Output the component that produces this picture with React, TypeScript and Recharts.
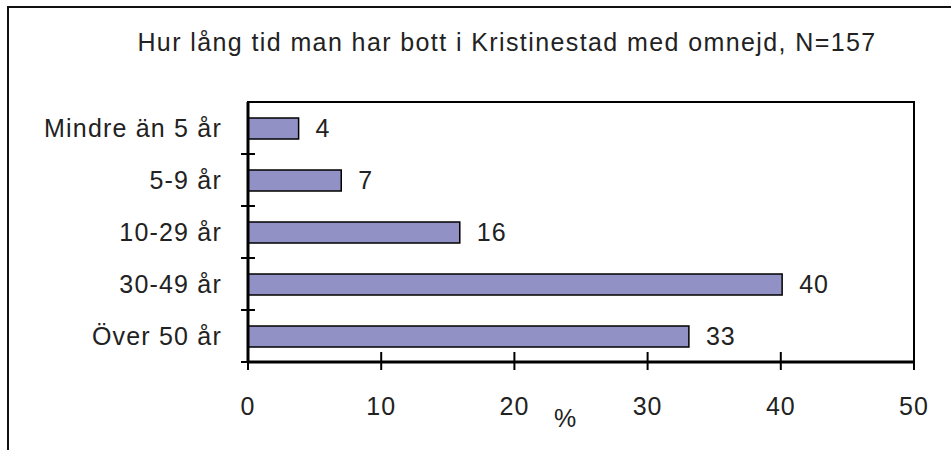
import * as React from 'react';
import { BarChart, Bar, XAxis, YAxis, LabelList, ReferenceArea } from 'recharts';

const categories = ['Mindre än 5 år', '5-9 år', '10-29 år', '30-49 år', 'Över 50 år'];
const percent = [3.8, 7.0, 15.9, 40.1, 33.1];
const xTicks = [0, 10, 20, 30, 40, 50];
const title = 'Hur lång tid man har bott i Kristinestad med omnejd, N=157';

const data = categories.map((name, i) => ({ name, value: percent[i] }));

const FONT = '"Liberation Sans", Arial, sans-serif';
const INK = '#222';

function YTick(props: any) {
  const { x, y, index } = props;
  const band = 52;
  return <g>
    <text x={x - 26} y={y} dy={9} textAnchor="end" fontSize={25} letterSpacing={1.2} fill={INK} fontFamily={FONT}>{categories[index]}</text>
    <line x1={x - 7} x2={x + 7} y1={y + band / 2} y2={y + band / 2} stroke="#000" strokeWidth={2} />
  </g>;
}

function XTick(props: any) {
  const { x, y, payload } = props;
  return <g>
    <line x1={x} x2={x} y1={y - 10} y2={y + 8} stroke="#000" strokeWidth={2} />
    <text x={x} y={y + 53} textAnchor="middle" fontSize={25} letterSpacing={1} fill={INK} fontFamily={FONT}>{payload.value}</text>
  </g>;
}

function PercentLabel(props: any) {
  const { viewBox } = props;
  return <text x={viewBox.x + viewBox.width / 2 - 16} y={viewBox.y + 65} textAnchor="middle" fontSize={25} fill={INK} fontFamily={FONT}>%</text>;
}

export default function App() {
  return <div style={{ position: 'absolute', left: 0, top: 0, width: 951, height: 450, background: '#fff', overflow: 'hidden' }}>
    <div style={{ position: 'absolute', left: 7, top: 6, width: 1000, height: 500, borderTop: '2px solid #111', borderLeft: '2px solid #111' }} />
    <div style={{ position: 'absolute', left: 0, width: 1014, top: 28, textAlign: 'center', fontFamily: FONT, fontSize: 25, color: INK, letterSpacing: 1.4 }}>{title}</div>
    <div style={{ position: 'absolute', left: 0, top: 0 }}>
      <BarChart width={951} height={450} data={data} layout="vertical" margin={{ top: 102, right: 37, bottom: 0, left: 8 }}>
        <XAxis type="number" domain={[0, 50]} ticks={xTicks} interval={0} tickSize={0} tickMargin={0} tickLine={false}
          axisLine={{ stroke: '#000', strokeWidth: 3 }} tick={<XTick />} label={<PercentLabel />} height={88} />
        <YAxis type="category" dataKey="name" width={240} tickSize={0} tickMargin={0} tickLine={false}
          axisLine={{ stroke: '#000', strokeWidth: 3 }} tick={<YTick />} interval={0} />
        <ReferenceArea x1={0} x2={50} fill="none" stroke="#000" strokeWidth={2} ifOverflow="visible" />
        <Bar dataKey="value" fill="#9191c6" stroke="#000" strokeWidth={1.5} barSize={21} isAnimationActive={false}>
          <LabelList dataKey="value" position="right" offset={17} formatter={(v: any) => Math.round(v)} fontSize={25} letterSpacing={1} fill={INK} fontFamily={FONT} />
        </Bar>
      </BarChart>
    </div>
  </div>;
}
